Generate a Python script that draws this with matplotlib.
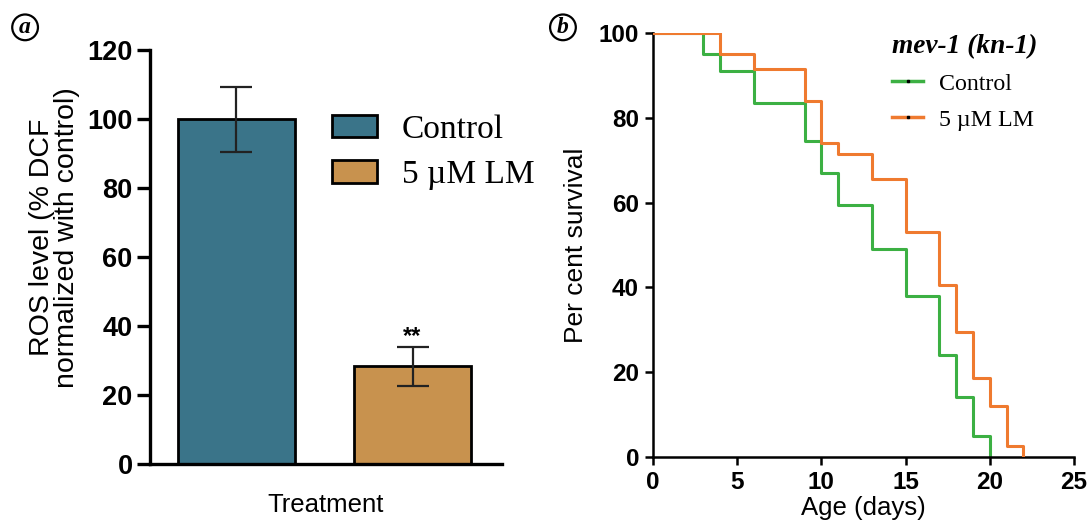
import numpy as np
import matplotlib
matplotlib.use("Agg")
import matplotlib.pyplot as plt
from matplotlib.lines import Line2D

# panel a data
groups = ["Control", "5 \u00b5M LM"]
ros_mean = [100, 28.5]
ros_err_hi = [9.4, 5.5]
ros_err_lo = [9.5, 5.8]
bar_colors = ["#3a7489", "#c8924e"]

# panel b data (Kaplan-Meier steps)
ctrl_days = [0, 3, 4, 6, 9, 10, 11, 13, 15, 17, 18, 19, 20]
ctrl_surv = [100, 95, 91, 83.5, 74.5, 67, 59.5, 49, 38, 24, 14, 5, 0]
lm_days = [0, 4, 6, 9, 10, 11, 13, 15, 17, 18, 19, 20, 21, 22]
lm_surv = [100, 95, 91.5, 84, 74, 71.5, 65.5, 53, 40.5, 29.5, 18.5, 12, 2.5, 0]
line_colors = ["#3cb043", "#ef7a2f"]

sans = "Liberation Sans"
serif = "Liberation Serif"

fig = plt.figure(figsize=(10.91, 5.26), dpi=100)

# ---------- panel a ----------
ax1 = fig.add_axes([0.1375, 0.1179, 0.3226, 0.787])
x = np.arange(len(groups))
ax1.bar(x, ros_mean, width=0.665, color=bar_colors, edgecolor="black",
        linewidth=2, label=groups, zorder=2)
ax1.errorbar(x, ros_mean, yerr=[ros_err_lo, ros_err_hi], fmt="none",
             ecolor="#222222", elinewidth=1.6, capsize=11.5, capthick=1.6, zorder=3)
ax1.text(x[1], ros_mean[1] + ros_err_hi[1] - 0.3, "**", ha="center", va="bottom",
         fontsize=17, fontweight="bold", family=sans)
ax1.set_xlim(-0.491, 1.508)
ax1.set_ylim(0, 120)
ax1.set_yticks([0, 20, 40, 60, 80, 100, 120])
ax1.set_xticks([])
for s in ["top", "right"]:
    ax1.spines[s].set_visible(False)
for s in ["left", "bottom"]:
    ax1.spines[s].set_linewidth(2.4)
ax1.tick_params(axis="y", length=9.5, width=2.4, pad=3)
for lab in ax1.get_yticklabels():
    lab.set_fontsize(19.5)
    lab.set_fontweight("bold")
    lab.set_family(sans)
ax1.set_ylabel("ROS level (% DCF\nnormalized with control)", fontsize=20.5,
               family=sans, linespacing=0.95)
ax1.yaxis.set_label_coords(-0.2, 0.548)
ax1.set_xlabel("Treatment", fontsize=18.5, family=sans, labelpad=21)
ax1.legend(loc="upper left", bbox_to_anchor=(0.517, 0.845), frameon=False,
           prop={"family": serif, "size": 24}, handlelength=1.35,
           handleheight=0.66, handletextpad=0.75, labelspacing=0.45,
           borderaxespad=0, borderpad=0)
for p in ax1.get_legend().get_patches():
    p.set_linewidth(2)

# ---------- panel b ----------
ax2 = fig.add_axes([0.5985, 0.1318, 0.3859, 0.805])
ax2.step(ctrl_days, ctrl_surv, where="post", color=line_colors[0], lw=2.2, zorder=2)
ax2.step(lm_days, lm_surv, where="post", color=line_colors[1], lw=2.2, zorder=3)
ax2.set_xlim(0, 25)
ax2.set_ylim(0, 100)
ax2.set_xticks([0, 5, 10, 15, 20, 25])
ax2.set_yticks([0, 20, 40, 60, 80, 100])
for s in ["top", "right"]:
    ax2.spines[s].set_visible(False)
for s in ["left", "bottom"]:
    ax2.spines[s].set_linewidth(1.8)
ax2.tick_params(length=6, width=1.8, pad=4)
for lab in ax2.get_xticklabels() + ax2.get_yticklabels():
    lab.set_fontsize(17.5)
    lab.set_fontweight("bold")
    lab.set_family(sans)
ax2.set_ylabel("Per cent survival", fontsize=19, family=sans, labelpad=8)
ax2.set_xlabel("Age (days)", fontsize=18.5, family=sans, labelpad=2)
handles = [Line2D([], [], color=c, lw=2.5, marker="s", markersize=2,
                  markerfacecolor="black", markeredgecolor="black")
           for c in line_colors]
leg = ax2.legend(handles, ["Control", "5 \u00b5M LM"], loc="upper left",
                 bbox_to_anchor=(0.568, 0.998), frameon=False, numpoints=1,
                 prop={"family": serif, "size": 17.2}, handlelength=1.3,
                 handletextpad=0.67, labelspacing=0.6, borderaxespad=0,
                 borderpad=0,
                 title="mev-1 (kn-1)",
                 title_fontproperties={"family": serif, "size": 19.7,
                                       "weight": "bold", "style": "italic"})
leg._legend_box.align = "left"
leg._legend_box.sep = 10

# panel labels
for px, t in [(0.023, "a"), (0.516, "b")]:
    fig.text(px, 0.948, t, fontsize=17, fontweight="bold", style="italic",
             family=serif, ha="center", va="center",
             bbox=dict(boxstyle="circle,pad=0.1", fc="none", ec="black", lw=1.6))

fig.savefig("out.png", dpi=100)
